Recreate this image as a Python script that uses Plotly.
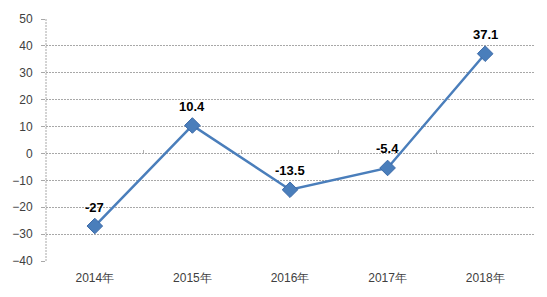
import plotly.graph_objects as go

categories = ["2014年", "2015年", "2016年", "2017年", "2018年"]
values = [-27, 10.4, -13.5, -5.4, 37.1]
labels = ["-27", "10.4", "-13.5", "-5.4", "37.1"]
y_ticks = [50, 40, 30, 20, 10, 0, -10, -20, -30, -40]

x = list(range(len(categories)))
y_min, y_max = -40, 50

fig = go.Figure()
fig.add_trace(go.Scatter(
    x=x, y=values, mode="lines+markers",
    line=dict(color="#4a7ebb", width=2.5),
    marker=dict(symbol="diamond", size=12, color="#4a7ebb",
                line=dict(color="#3c6aa8", width=1)),
    cliponaxis=False, showlegend=False,
))
# helper trace for the axis crossing at zero (tick marks between categories)
fig.add_trace(go.Scatter(x=[-0.5, 4.5], y=[0, 0], xaxis="x2", mode="lines",
                         line=dict(width=0), hoverinfo="skip", showlegend=False))

for xi, yi, t in zip(x, values, labels):
    fig.add_annotation(x=xi, y=yi, text=t, showarrow=False, yshift=19,
                       font=dict(family="Liberation Sans, Arial", size=13,
                                 color="#000000", weight="bold"))

grid_dash = "2px,1px"
fig.update_layout(
    width=547, height=297,
    margin=dict(l=38, r=13, t=15, b=35),
    paper_bgcolor="white", plot_bgcolor="white",
    font=dict(family="Liberation Sans, Arial", size=11, color="#404040"),
    xaxis=dict(range=[-0.5, 4.5], tickvals=x, ticktext=categories,
               showgrid=False, zeroline=False, showline=False, ticks="",
               ticklabelstandoff=8,
               tickfont=dict(size=12, color="#404040")),
    xaxis2=dict(range=[-0.5, 4.5], overlaying="x", anchor="free",
                position=(0 - y_min) / (y_max - y_min),
                tickvals=[0.5, 1.5, 2.5, 3.5, 4.5], showticklabels=False,
                ticks="inside", ticklen=3, tickcolor="#b0b0b0",
                showline=False, showgrid=False, zeroline=False),
    yaxis=dict(range=[y_min, y_max], tickvals=y_ticks, showgrid=True,
               gridcolor="#a8a8a8", griddash=grid_dash, gridwidth=1,
               zeroline=False, showline=False,
               ticks="outside", ticklen=4, tickcolor="#a8a8a8",
               ticklabelstandoff=6,
               tickfont=dict(size=12, color="#404040")),
    shapes=[dict(type="line", xref="paper", yref="paper", x0=0, x1=0, y0=0, y1=1,
                 line=dict(color="#a8a8a8", width=1, dash=grid_dash))],
)

fig.write_html("out.html")
